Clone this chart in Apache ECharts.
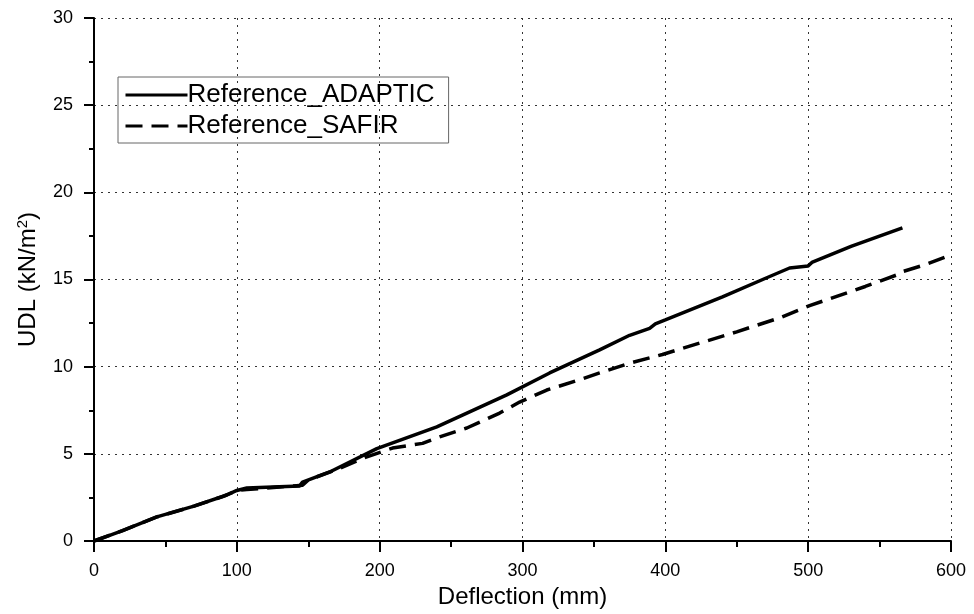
<!DOCTYPE html>
<html lang="en">
  <head>
    <meta charset="UTF-8" />
    <title>UDL vs Deflection</title>
    <script src="https://cdn.jsdelivr.net/npm/echarts@6/dist/echarts.min.js"></script>
    <style>
      html, body { margin: 0; padding: 0; background: #fff; }
      #main { width: 974px; height: 614px; }
    </style>
  </head>
  <body>
    <div id="main"></div>
    <script>
      // deflection (mm), UDL (kN/m2)
      var adapticX = [0, 10, 20, 44, 70, 93, 100, 107, 125, 144, 146, 165, 198, 240, 289, 319, 354, 375, 389, 393, 400, 440, 471, 487, 500, 503, 530, 566];
      var adapticY = [0, 0.3, 0.6, 1.38, 2.0, 2.64, 2.9, 3.04, 3.1, 3.16, 3.38, 3.96, 5.3, 6.55, 8.38, 9.64, 10.96, 11.8, 12.2, 12.45, 12.68, 14.0, 15.1, 15.66, 15.78, 16.0, 16.9, 17.96];
      var safirX = [0, 20, 44, 70, 90, 100, 107, 130, 146, 150, 170, 190, 209, 230, 242, 261, 284, 298, 317, 342, 354, 375, 398, 450, 480, 501, 540, 562, 564, 580, 600];
      var safirY = [0, 0.6, 1.38, 2.0, 2.55, 2.9, 2.95, 3.1, 3.2, 3.5, 4.1, 4.8, 5.33, 5.6, 5.97, 6.48, 7.34, 7.97, 8.66, 9.3, 9.64, 10.2, 10.7, 12.0, 12.8, 13.5, 14.6, 15.26, 15.4, 15.8, 16.4];

      var seriesNames = ["Reference_ADAPTIC", "Reference_SAFIR"];

      function pairs(xs, ys) {
        return xs.map(function (x, i) { return [x, ys[i]]; });
      }

      var font = "'Liberation Sans', Arial, sans-serif";
      var chart = echarts.init(document.getElementById("main"));

      var option = {
        backgroundColor: "#fff",
        animation: false,
        grid: { left: 94, right: 23, top: 18, bottom: 73 },
        legend: {
          left: 118,
          top: 77,
          orient: "vertical",
          data: seriesNames,
          itemWidth: 62,
          itemHeight: 14,
          itemGap: 5,
          padding: [5, 14, 4, 6],
          borderColor: "#666",
          borderWidth: 1,
          itemStyle: { opacity: 0 },
          lineStyle: { width: 3 },
          textStyle: { fontFamily: font, fontSize: 26, color: "#000", padding: [0, 0, 0, -5] }
        },
        xAxis: {
          type: "value",
          min: 0,
          max: 600,
          interval: 100,
          name: "Deflection (mm)",
          nameLocation: "middle",
          nameGap: 38,
          nameTextStyle: { fontFamily: font, fontSize: 24, color: "#000" },
          axisLine: { lineStyle: { color: "#000", width: 2 } },
          axisTick: { inside: false, length: 11, lineStyle: { color: "#000", width: 2 } },
          minorTick: { show: true, splitNumber: 2, length: 6, lineStyle: { color: "#000", width: 2 } },
          axisLabel: { fontFamily: font, fontSize: 18, color: "#000", margin: 21 },
          splitLine: { show: true, lineStyle: { color: "#333", type: [2, 5], width: 1 } }
        },
        yAxis: {
          type: "value",
          min: 0,
          max: 30,
          interval: 5,
          name: "UDL (kN/m{sup|2})",
          nameLocation: "middle",
          nameGap: 52,
          nameTextStyle: {
            fontFamily: font, fontSize: 24, color: "#000",
            rich: { sup: { fontFamily: font, fontSize: 15, color: "#000", verticalAlign: "top", padding: [0, 0, 12, 0] } }
          },
          axisLine: { show: true, lineStyle: { color: "#000", width: 2 } },
          axisTick: { show: true, inside: false, length: 10, lineStyle: { color: "#000", width: 2 } },
          minorTick: { show: true, splitNumber: 2, length: 5, lineStyle: { color: "#000", width: 2 } },
          axisLabel: { fontFamily: font, fontSize: 18, color: "#000", margin: 21 },
          splitLine: { show: true, lineStyle: { color: "#333", type: [2, 5], width: 1 } }
        },
        series: [
          {
            name: seriesNames[0],
            type: "line",
            showSymbol: false,
            symbol: "none",
            data: pairs(adapticX, adapticY),
            lineStyle: { color: "#000", width: 3.5 },
            itemStyle: { color: "#000" }
          },
          {
            name: seriesNames[1],
            type: "line",
            showSymbol: false,
            symbol: "none",
            data: pairs(safirX, safirY),
            lineStyle: { color: "#000", width: 3.5, type: [17, 9] },
            itemStyle: { color: "#000" }
          }
        ]
      };
      chart.setOption(option);
    </script>
  </body>
</html>
